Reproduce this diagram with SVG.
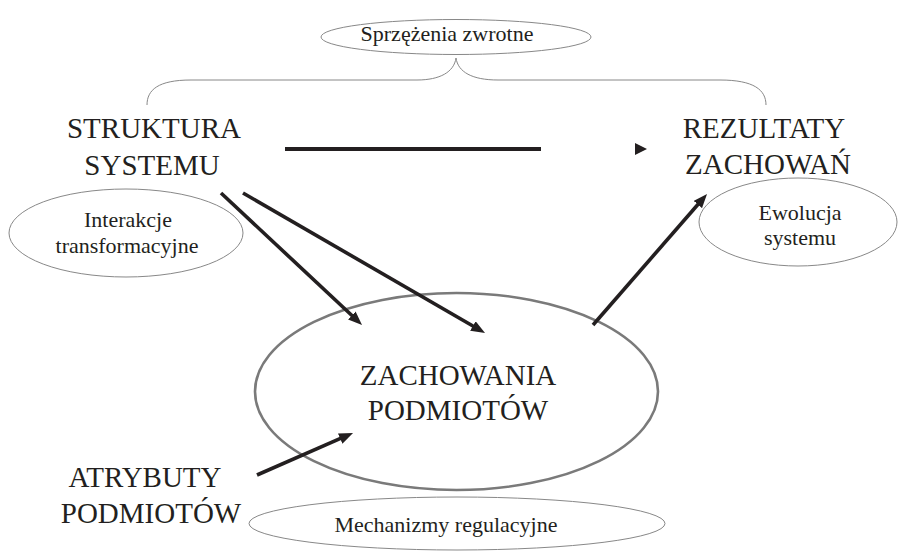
<svg xmlns="http://www.w3.org/2000/svg" width="898" height="551" viewBox="0 0 898 551">
<defs>
<style>
text{font-family:"Liberation Serif","Times New Roman",serif;fill:#231f20;text-anchor:middle}
.big{font-size:29px}
.small{font-size:22px}
.thin{fill:none;stroke:#888;stroke-width:1}
.main{fill:none;stroke:#7a7a7a;stroke-width:2.6}
.arr{stroke:#231f20;stroke-width:3.6;fill:none;marker-end:url(#ah)}
</style>
<marker id="ah" viewBox="0 0 14 11" refX="6" refY="5.5" markerWidth="14" markerHeight="11" markerUnits="userSpaceOnUse" orient="auto">
<path d="M0,0 L14,5.5 L0,11 z" fill="#231f20"/>
</marker>
</defs>
<rect width="898" height="551" fill="#fff"/>

<g id="feedback">
<path class="thin" d="M147,105 C147,90 158,80 191,80 L417,80 C440,80 454,72 456,58 C458,72 472,80 498,80 L720,80 C754,80 766,90 766,105"/>
<ellipse class="thin" cx="456" cy="37" rx="135" ry="17.5"/>
<text class="small" x="447" y="41">Sprzężenia zwrotne</text>
</g>

<g id="struktura">
<text class="big" x="154" y="138">STRUKTURA</text>
<text class="big" x="152" y="175">SYSTEMU</text>
</g>

<g id="interakcje">
<ellipse class="thin" cx="126" cy="233" rx="117" ry="44"/>
<text class="small" x="128" y="227">Interakcje</text>
<text class="small" x="127" y="253">transformacyjne</text>
</g>

<g id="rezultaty">
<text class="big" x="764" y="138">REZULTATY</text>
<text class="big" x="768" y="174">ZACHOWAŃ</text>
</g>

<g id="ewolucja">
<ellipse class="thin" cx="798" cy="222" rx="99" ry="44"/>
<text class="small" x="800" y="220">Ewolucja</text>
<text class="small" x="800" y="245">systemu</text>
</g>

<g id="zachowania">
<ellipse class="main" cx="456.5" cy="391.5" rx="201.5" ry="98.5"/>
<text class="big" x="458" y="385">ZACHOWANIA</text>
<text class="big" x="458" y="420">PODMIOTÓW</text>
</g>

<g id="atrybuty">
<text class="big" x="145" y="487">ATRYBUTY</text>
<text class="big" x="151" y="523">PODMIOTÓW</text>
</g>

<g id="mechanizmy">
<ellipse class="thin" cx="457" cy="523.5" rx="208" ry="26.5"/>
<text class="small" x="446" y="532">Mechanizmy regulacyjne</text>
</g>

<g id="connectors">
<line x1="285" y1="149" x2="541" y2="149" stroke="#231f20" stroke-width="4"/>
<polygon points="635,143 647,149 635,155" fill="#231f20"/>
<line class="arr" x1="221" y1="193" x2="356.2" y2="319.5"/>
<line class="arr" x1="243" y1="193" x2="478.1" y2="329"/>
<line class="arr" x1="593" y1="325" x2="701.8" y2="200"/>
<line class="arr" x1="257" y1="475" x2="345.7" y2="436.2"/>
</g>
</svg>
